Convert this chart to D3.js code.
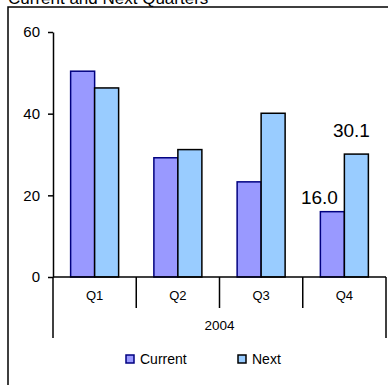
<!DOCTYPE html>
<html lang="en">
<head>
    <meta charset="UTF-8">
    <title>Current and Next Quarters</title>
    <script src="https://cdn.jsdelivr.net/npm/d3@7/dist/d3.min.js"></script>
    <style>
        body { margin: 0; background: #fff; }
        text { font-family: "Liberation Sans", Arial, sans-serif; fill: #000; }
    </style>
</head>
<body>
    <svg width="388" height="385"></svg>
    <script>
        // data
        var quarters = ["Q1", "Q2", "Q3", "Q4"];
        var seriesNames = ["Current", "Next"];
        var current = [50.4, 29.2, 23.3, 16.0];
        var next = [46.3, 31.2, 40.1, 30.1];
        var yTicks = [0, 20, 40, 60];
        var yearLabel = "2004";

        var colors = { Current: "#9999FF", Next: "#99CCFF" };
        var strokes = { Current: "#000080", Next: "#000000" };

        var svg = d3.select("svg");

        // outer chart frame (runs off the right/bottom edge)
        svg.append("rect")
            .attr("x", 8).attr("y", 7)
            .attr("width", 400).attr("height", 400)
            .attr("fill", "none").attr("stroke", "#000").attr("stroke-width", 1.5);

        svg.append("text")
            .attr("x", 8).attr("y", 4)
            .attr("font-size", 17)
            .text("Current and Next Quarters");

        var plotLeft = 53, plotRight = 386, plotTop = 32, plotBottom = 277;

        var x = d3.scaleBand().domain(quarters).range([plotLeft, plotRight]).padding(0);
        var y = d3.scaleLinear().domain([0, 60]).range([plotBottom, plotTop]);
        var barW = 24;
        var xs = d3.scaleBand().domain(seriesNames).range([-barW, barW]);

        var rows = quarters.map(function(q, i) {
            return { q: q, Current: current[i], Next: next[i] };
        });

        var g = svg.append("g");

        // bars
        var groups = g.selectAll(".grp").data(rows).enter().append("g")
            .attr("transform", function(d) { return "translate(" + (x(d.q) + x.bandwidth() / 2) + ",0)"; });

        groups.selectAll("rect")
            .data(function(d) { return seriesNames.map(function(s) { return { s: s, v: d[s] }; }); })
            .enter().append("rect")
            .attr("x", function(d) { return xs(d.s); })
            .attr("y", function(d) { return y(d.v); })
            .attr("width", xs.bandwidth())
            .attr("height", function(d) { return y(0) - y(d.v); })
            .attr("fill", function(d) { return colors[d.s]; })
            .attr("stroke", function(d) { return strokes[d.s]; })
            .attr("stroke-width", 1.5);

        // y axis
        var yAxis = g.append("g")
            .attr("transform", "translate(" + plotLeft + ",0)")
            .call(d3.axisLeft(y).tickValues(yTicks).tickSize(5).tickPadding(8).tickSizeOuter(0));
        yAxis.select(".domain").attr("stroke-width", 1.5);
        yAxis.selectAll(".tick line").attr("stroke-width", 1.5);
        yAxis.selectAll("text").attr("font-size", 15).style("font-family", "Liberation Sans, Arial, sans-serif");

        // x axis line
        g.append("line")
            .attr("x1", plotLeft).attr("x2", plotRight)
            .attr("y1", plotBottom).attr("y2", plotBottom)
            .attr("stroke", "#000").attr("stroke-width", 1.5);

        // category separators
        var seps = quarters.slice(1).map(function(q) { return x(q); });
        g.selectAll(".sep").data(seps).enter().append("line")
            .attr("x1", function(d) { return d; }).attr("x2", function(d) { return d; })
            .attr("y1", plotBottom).attr("y2", plotBottom + 31)
            .attr("stroke", "#000").attr("stroke-width", 1.5);

        // outer level lines
        g.selectAll(".outer").data(x.range()).enter().append("line")
            .attr("x1", function(d) { return d; }).attr("x2", function(d) { return d; })
            .attr("y1", plotBottom).attr("y2", plotBottom + 61)
            .attr("stroke", "#000").attr("stroke-width", 1.5);

        g.selectAll(".qlab").data(quarters).enter().append("text")
            .attr("x", function(d) { return x(d) + x.bandwidth() / 2; })
            .attr("y", plotBottom + 23)
            .attr("text-anchor", "middle")
            .attr("font-size", 13)
            .text(function(d) { return d; });

        g.append("text")
            .attr("x", (plotLeft + plotRight) / 2)
            .attr("y", plotBottom + 53)
            .attr("text-anchor", "middle")
            .attr("font-size", 13.5)
            .text(yearLabel);

        // data labels on Q4
        var last = quarters.length - 1;
        var cx = x(quarters[last]) + x.bandwidth() / 2;
        g.append("text")
            .attr("x", cx + xs("Current") + xs.bandwidth() / 2 - 13)
            .attr("y", y(current[last]) - 8)
            .attr("text-anchor", "middle")
            .attr("font-size", 19)
            .text(d3.format(".1f")(current[last]));
        g.append("text")
            .attr("x", cx + xs("Next") + xs.bandwidth() / 2 - 5)
            .attr("y", y(next[last]) - 17)
            .attr("text-anchor", "middle")
            .attr("font-size", 19)
            .text(d3.format(".1f")(next[last]));

        // legend
        var legendX = [126, 238];
        var leg = svg.selectAll(".leg").data(seriesNames).enter().append("g")
            .attr("transform", function(d, i) { return "translate(" + legendX[i] + ",355)"; });
        leg.append("rect")
            .attr("width", 8).attr("height", 8)
            .attr("fill", function(d) { return colors[d]; })
            .attr("stroke", function(d) { return strokes[d]; })
            .attr("stroke-width", 1.5);
        leg.append("text")
            .attr("x", 14).attr("y", 9)
            .attr("font-size", 14)
            .text(function(d) { return d; });
    </script>
</body>
</html>
